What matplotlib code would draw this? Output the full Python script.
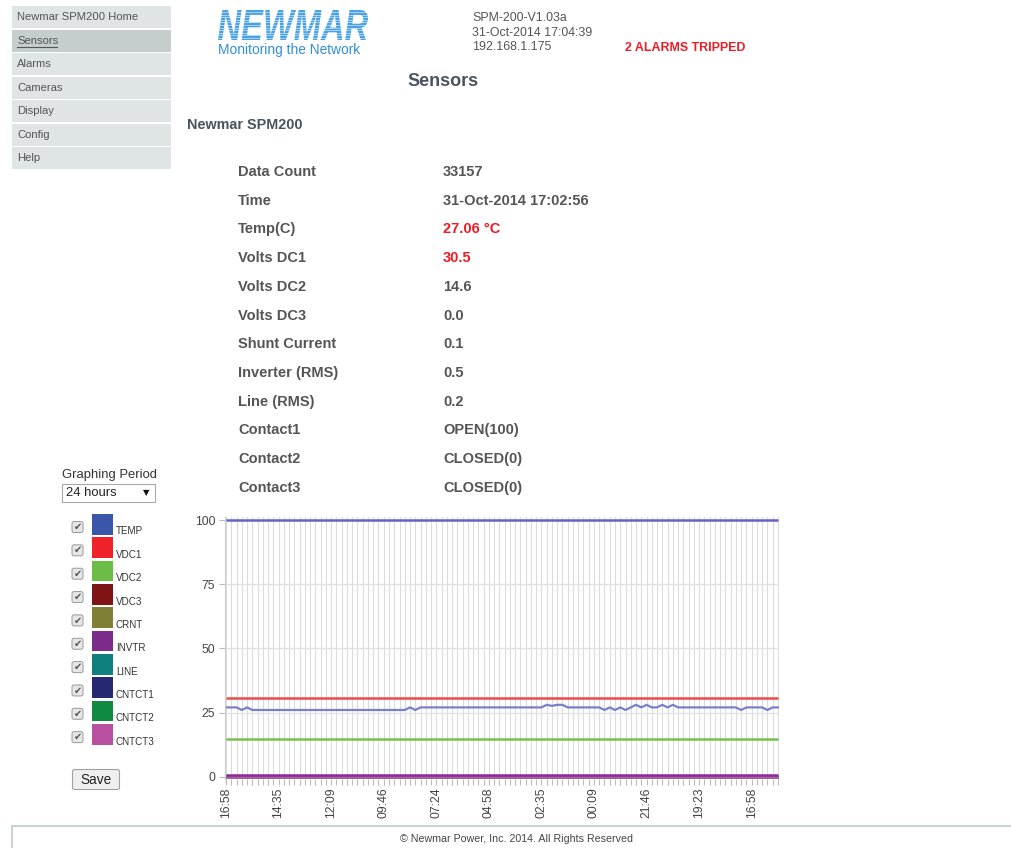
import numpy as np
import matplotlib
matplotlib.use('Agg')
import matplotlib.pyplot as plt
from matplotlib.patches import Rectangle, FancyBboxPatch, PathPatch
from matplotlib.textpath import TextPath
from matplotlib.font_manager import FontProperties
from matplotlib.transforms import Affine2D

plt.rcParams['font.family'] = ['Liberation Sans', 'DejaVu Sans']

# ---- data ----
nav_items = ['Newmar SPM200 Home', 'Sensors', 'Alarms', 'Cameras', 'Display', 'Config', 'Help']
header_lines = ['SPM-200-V1.03a', '31-Oct-2014 17:04:39', '192.168.1.175']

table_labels = ['Data Count', 'Time', 'Temp(C)', 'Volts DC1', 'Volts DC2', 'Volts DC3',
                'Shunt Current', 'Inverter (RMS)', 'Line (RMS)', 'Contact1', 'Contact2', 'Contact3']
table_values = ['33157', '31-Oct-2014 17:02:56', '27.06 °C', '30.5', '14.6', '0.0',
                '0.1', '0.5', '0.2', 'OPEN(100)', 'CLOSED(0)', 'CLOSED(0)']
table_alarm = [False, False, True, True, False, False, False, False, False, False, False, False]

series_names = ['TEMP', 'VDC1', 'VDC2', 'VDC3', 'CRNT', 'INVTR', 'LINE', 'CNTCT1', 'CNTCT2', 'CNTCT3']
swatch_colors = ['#3a56a8', '#ee2228', '#6cbd45', '#7e1416', '#7f7f35',
                 '#7d2b8b', '#10807f', '#262872', '#0f8a43', '#b94fa0']
# how the lines look on screen (lighter than the swatches)
line_colors = ['#7880cc', '#ee4a4a', '#78c24c', '#8a2a30', '#8a8a45',
               '#8b2c96', '#2a8c8a', '#6464c8', '#2a9a55', '#b85aa5']

# constant readings over the period
const_values = {'VDC1': 30.5, 'VDC2': 14.6, 'VDC3': 0.0, 'CRNT': 0.1, 'LINE': 0.2,
                'CNTCT1': 100, 'CNTCT2': 0, 'CNTCT3': 0, 'INVTR': 0.5}

# temperature samples, newest first
temp = [27, 27, 27, 26, 27, 26, 26, 26, 26, 26,
        26, 26, 26, 26, 26, 26, 26, 26, 26, 26,
        26, 26, 26, 26, 26, 26, 26, 26, 26, 26,
        26, 26, 26, 26, 26, 27, 26, 27, 27, 27,
        27, 27, 27, 27, 27, 27, 27, 27, 27, 27,
        27, 27, 27, 27, 27, 27, 27, 27, 27, 27,
        27, 28, 27.6, 28, 28, 27, 27, 27, 27, 27,
        27, 27, 26, 27, 26, 27, 26, 27, 28, 27,
        28, 27, 27, 28, 27, 28, 27, 27, 27, 27,
        27, 27, 27, 27, 27, 27, 27, 27, 26, 27,
        27, 27, 27, 26, 27, 27]

time_labels = ['16:58', '14:35', '12:09', '09:46', '07:24', '04:58',
               '02:35', '00:09', '21:46', '19:23', '16:58']

W, H = 1011, 848
fig = plt.figure(figsize=(W / 100, H / 100), dpi=100)
fig.patch.set_facecolor('white')

# page layer in pixel coordinates
pg = fig.add_axes([0, 0, 1, 1])
pg.set_xlim(0, W)
pg.set_ylim(H, 0)
pg.axis('off')

# left menu
row_h = 23.5
for i, item in enumerate(nav_items):
    top = 6 + i * row_h
    fc = '#c5cdcd' if item == 'Sensors' else '#dfe5e5'
    pg.add_patch(Rectangle((12, top), 159, row_h - 1.2, fc=fc, ec='none'))
    pg.text(17, top + row_h / 2 - 0.5, item, fontsize=8.1, color='#555555', va='center')
    if item == 'Sensors':
        pg.plot([17, 57], [top + 17, top + 17], color='#555555', lw=0.8)

# logo
fp = FontProperties(family='Liberation Sans', weight='bold', style='italic')
tp = TextPath((0, 0), 'NEWMAR', prop=fp, size=1)
bb = tp.get_extents()
tr = Affine2D().translate(-bb.x0, -bb.y0).scale(150 / bb.width, -30 / bb.height).translate(218, 40)
pg.add_patch(PathPatch(tr.transform_path(tp), fc='#4aa2e2', ec='none'))
for yy in np.arange(12, 40, 2.6):
    pg.plot([214, 372], [yy, yy], color='white', lw=0.45, alpha=0.8)
pg.text(218, 50, 'Monitoring the Network', fontsize=9.9, color='#2f8fd8', va='center')

# header info
for i, line in enumerate(header_lines):
    pg.text(472, 18 + i * 14.5, line, fontsize=8.9, color='#555555', va='center')
pg.text(625, 48, '2 ALARMS TRIPPED', fontsize=8.9, color='#ee1c24', weight='bold', va='center')

pg.text(443, 82, 'Sensors', fontsize=13, color='#4a545e', weight='bold', va='center', ha='center')
pg.text(187, 125, 'Newmar SPM200', fontsize=10.4, color='#4a545e', weight='bold', va='center')

# sensor table
for i, (lab, val, alarm) in enumerate(zip(table_labels, table_values, table_alarm)):
    y = 172 + i * 28.7
    pg.text(238, y, lab, fontsize=10.5, color='#555555', weight='bold', va='center')
    pg.text(443, y, val, fontsize=10.5, color='#ee1c24' if alarm else '#555555',
            weight='bold', va='center')

# graphing period selector
pg.text(62, 475, 'Graphing Period', fontsize=9.4, color='#333333', va='center')
pg.add_patch(Rectangle((61.5, 483.5), 93.5, 18.5, fc='white', ec='#a8a8a8', lw=0.8))
pg.text(66, 493, '24 hours', fontsize=9.4, color='#222222', va='center')
pg.text(146, 493, '▼', fontsize=6, color='#111111', va='center', ha='center',
        family=['DejaVu Sans'])

# series legend with checkboxes
for i, (name, col) in enumerate(zip(series_names, swatch_colors)):
    yc = 527.5 + i * 23.35
    pg.add_patch(FancyBboxPatch((72, yc - 6), 11, 11, boxstyle='round,pad=0,rounding_size=2',
                                fc='#e6e6e6', ec='#9a9a9a', lw=0.7))
    pg.text(77.5, yc - 0.5, '✔', fontsize=7, color='#555555', ha='center', va='center',
            family=['DejaVu Sans'])
    pg.add_patch(Rectangle((92, yc - 13.5), 20.5, 20.5, fc=col, ec='none'))
    pg.text(116, yc + 7, name, fontsize=7.1, color='#333333', va='baseline')

# save button
pg.add_patch(FancyBboxPatch((72.5, 769.5), 47, 20, boxstyle='round,pad=0,rounding_size=2',
                            fc='#efefef', ec='#a0a0a0', lw=0.8))
pg.text(96, 779.5, 'Save', fontsize=9.8, color='#222222', ha='center', va='center')

# footer
pg.plot([12, W], [826, 826], color='#c8d2d2', lw=1.4)
pg.plot([12, 12], [826, H], color='#c8d2d2', lw=1.4)
pg.text(517, 839, '© Newmar Power, Inc. 2014. All Rights Reserved', fontsize=7.7,
        color='#444444', ha='center', va='center')

# ---- chart ----
ax_l, ax_r, ax_t, ax_b = 225, 779, 517, 779
ax = fig.add_axes([ax_l / W, 1 - ax_b / H, (ax_r - ax_l) / W, (ax_b - ax_t) / H])
x = np.arange(len(temp))
ax.set_xlim(-0.2, 105.2)
ax.set_ylim(-0.9, 101.2)

ax.set_xticks(x, minor=True)
ax.set_xticks(np.arange(0, 101, 10))
ax.set_xticklabels(time_labels, rotation=90, fontsize=8.8, color='#444444')
ax.set_yticks([0, 25, 50, 75, 100])
ax.set_yticklabels(['0', '25', '50', '75', '100'], fontsize=8.8, color='#444444')
ax.grid(axis='x', which='both', color='#dcdcdc', lw=0.8, zorder=0)
ax.grid(axis='y', which='major', color='#e2e2e2', lw=1.0, zorder=0)
ax.tick_params(axis='x', which='both', length=4, color='#bbbbbb', width=0.8, pad=2)
ax.tick_params(axis='y', length=4, color='#bbbbbb', width=0.8, pad=3)
for s in ['top', 'right', 'bottom']:
    ax.spines[s].set_visible(False)
ax.spines['left'].set_color('#cccccc')
ax.set_facecolor('none')

draw_order = ['VDC3', 'CRNT', 'LINE', 'CNTCT2', 'CNTCT3', 'INVTR', 'VDC2', 'VDC1', 'CNTCT1']
for name in draw_order:
    col = line_colors[series_names.index(name)]
    ax.plot(x, np.full(len(x), const_values[name]), color=col, lw=1.8, solid_capstyle='butt')
ax.plot(x, temp, color=line_colors[0], lw=1.6)

fig.savefig('out.png', dpi=100)
